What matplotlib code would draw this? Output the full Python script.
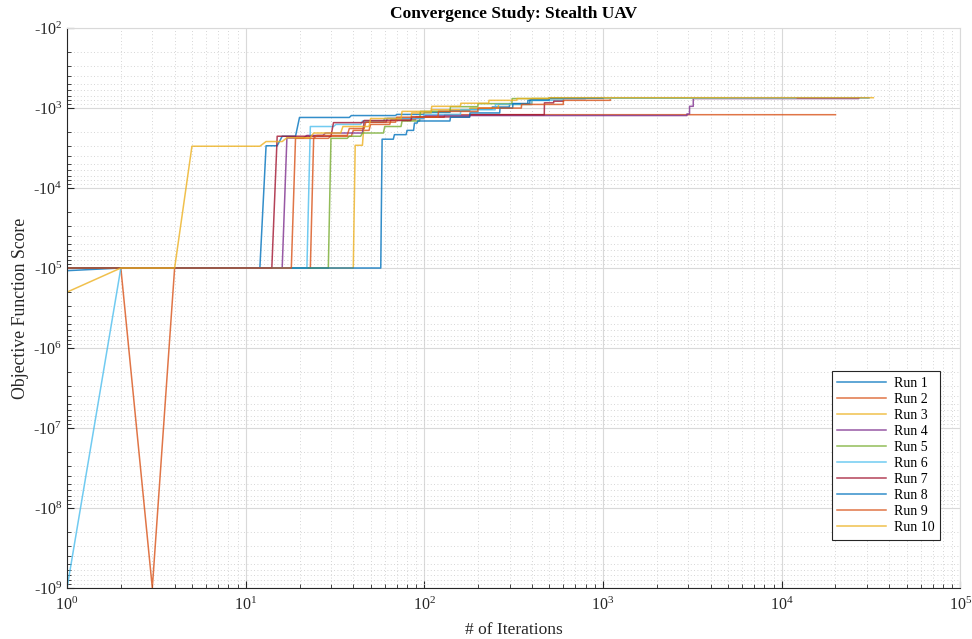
import math
import matplotlib
matplotlib.use("Agg")
import matplotlib.pyplot as plt
from matplotlib.ticker import FixedLocator, FuncFormatter, NullFormatter

plt.rcParams['font.family'] = ['Liberation Serif', 'DejaVu Serif']
plt.rcParams['mathtext.fontset'] = 'custom'
plt.rcParams['mathtext.rm'] = 'Liberation Serif'
plt.rcParams['mathtext.it'] = 'Liberation Serif:italic'
plt.rcParams['mathtext.bf'] = 'Liberation Serif:bold'

# Each run: iterations where the objective value changes, and the new value.
# The last entry of *_its is the final iteration (value held).
run1_its = [1, 2, 13, 16, 20, 39, 70, 100, 140, 180, 240, 300, 380, 500, 800, 30800]
run1_vals = [-1.08e5, -1e5, -2960, -2250, -1310, -1240, -1200, -1130, -1080, -1030, -970, -880, -800, -760, -745, -745]

run2_its = [1, 2, 3, 4, 24, 30, 40, 50, 65, 90, 130, 20000]
run2_vals = [-1e5, -1e5, -1e9, -1e5, -2390, -2250, -1900, -1600, -1400, -1300, -1210, -1210]

run3_its = [1, 41, 46, 60, 85, 110, 180, 260, 400, 600, 5000]
run3_vals = [-1e5, -2920, -1500, -1350, -1150, -1050, -1000, -900, -760, -745, -745]

run4_its = [1, 17, 22, 28, 46, 62, 100, 2950, 3050, 3200, 27000]
run4_vals = [-1e5, -2370, -2200, -2050, -1500, -1350, -1240, -1184, -950, -760, -745]

run5_its = [1, 30, 38, 45, 60, 75, 95, 140, 200, 310, 500, 5000]
run5_vals = [-1e5, -2390, -2250, -2050, -1700, -1450, -1100, -960, -880, -760, -745, -745]

run6_its = [1, 2, 23, 32, 45, 60, 100, 160, 250, 400, 600, 12000]
run6_vals = [-1e9, -1e5, -1700, -1600, -1450, -1350, -1200, -1050, -900, -800, -750, -750]

run7_its = [1, 15, 31, 46, 85, 180, 470, 530, 600]
run7_vals = [-1e5, -2250, -1520, -1430, -1290, -1210, -860, -820, -820]

run8_its = [1, 58, 68, 80, 88, 92, 140, 180, 265, 313, 390, 500, 1000]
run8_vals = [-1e5, -2450, -2150, -1900, -1540, -1450, -1300, -1150, -1000, -880, -790, -755, -755]

run9_its = [1, 19, 25, 38, 47, 70, 120, 200, 350, 600, 1100]
run9_vals = [-1e5, -2390, -2200, -1800, -1500, -1300, -1100, -1000, -900, -800, -790]

run10_its = [1, 2, 5, 13, 17, 24, 35, 50, 75, 110, 160, 230, 330, 500, 32600]
run10_vals = [-2e5, -1e5, -3000, -2620, -2350, -2050, -1700, -1350, -1100, -950, -870, -800, -760, -742, -742]

runs_its = [run1_its, run2_its, run3_its, run4_its, run5_its,
            run6_its, run7_its, run8_its, run9_its, run10_its]
runs_vals = [run1_vals, run2_vals, run3_vals, run4_vals, run5_vals,
             run6_vals, run7_vals, run8_vals, run9_vals, run10_vals]
labels = [f"Run {i}" for i in range(1, 11)]
colors = ['#0072BD', '#D95319', '#EDB120', '#7E2F8E', '#77AC30',
          '#4DBEEE', '#A2142F', '#0072BD', '#D95319', '#EDB120']

x_exps = [0, 1, 2, 3, 4, 5]
y_exps = [2, 3, 4, 5, 6, 7, 8, 9]

fig = plt.figure(figsize=(9.72, 6.39), dpi=100)
ax = fig.add_axes([0.069, 0.080, 0.919, 0.876])

for its, vals, lab, c in zip(runs_its, runs_vals, labels, colors):
    xs, ys = [its[0]], [-vals[0]]
    for k in range(1, len(its)):
        if its[k] - 1 > xs[-1]:
            xs.append(its[k] - 1)
            ys.append(-vals[k - 1])
        xs.append(its[k])
        ys.append(-vals[k])
    ax.plot(xs, ys, color=c, lw=1.1, alpha=0.8, label=lab)

ax.set_xscale('log')
ax.set_yscale('log')
ax.set_xlim(10.0 ** x_exps[0], 10.0 ** x_exps[-1])
ax.set_ylim(10.0 ** y_exps[-1], 10.0 ** y_exps[0])

ax.xaxis.set_major_locator(FixedLocator([10.0 ** e for e in x_exps]))
ax.xaxis.set_minor_locator(FixedLocator([m * 10.0 ** e for e in x_exps[:-1] for m in range(2, 10)]))
ax.yaxis.set_major_locator(FixedLocator([10.0 ** e for e in y_exps]))
ax.yaxis.set_minor_locator(FixedLocator([m * 10.0 ** e for e in y_exps[:-1] for m in range(2, 10)]))
ax.xaxis.set_major_formatter(FuncFormatter(lambda v, p: r'10$^{%d}$' % round(math.log10(v))))
ax.yaxis.set_major_formatter(FuncFormatter(lambda v, p: r'-10$^{%d}$' % round(math.log10(v))))
ax.xaxis.set_minor_formatter(NullFormatter())
ax.yaxis.set_minor_formatter(NullFormatter())

ax.grid(True, which='major', color='#d9d9d9', lw=0.8, ls='-')
ax.grid(True, which='minor', color='#c8c8c8', lw=0.6, ls=(0, (1, 3)))
ax.set_axisbelow(True)

ax.tick_params(which='both', direction='in', top=False, right=False,
               labelsize=11.5, colors='#262626')
ax.tick_params(axis='x', which='major', pad=6)
ax.tick_params(which='major', length=5, width=0.8)
ax.tick_params(which='minor', length=3, width=0.6)
for s in ['left', 'bottom']:
    ax.spines[s].set_color('#262626')
    ax.spines[s].set_linewidth(0.8)
for s in ['top', 'right']:
    ax.spines[s].set_color('#d9d9d9')
    ax.spines[s].set_linewidth(0.8)

ax.set_title('Convergence Study: Stealth UAV', fontsize=12.5, fontweight='bold', pad=7)
ax.set_xlabel('# of Iterations', fontsize=12.5, color='#262626', labelpad=6)
ax.yaxis.set_label_coords(-0.043, 0.5)
ax.set_ylabel('Objective Function Score', fontsize=12.8, color='#262626')

leg = ax.legend(loc='lower right', bbox_to_anchor=(0.9776, 0.0857), fontsize=10,
                frameon=True, fancybox=False, edgecolor='#262626', framealpha=1,
                borderaxespad=0, borderpad=0.4, labelspacing=0.22,
                handlelength=3.5, handletextpad=0.6)
leg.get_frame().set_linewidth(0.8)

fig.savefig('out.png', dpi=100)
